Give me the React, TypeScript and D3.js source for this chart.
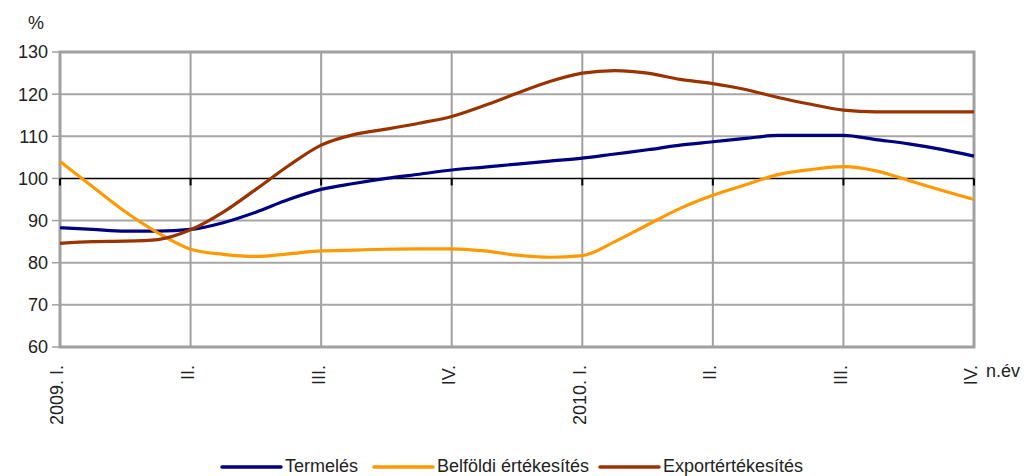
import React, { useRef, useEffect } from 'react';
import * as d3 from 'd3';

// x positions are in quarters from 2009 I. (0) to 2010 IV. (7), sampled every quarter of a quarter
const quarterLabels = ['2009. I.', 'II.', 'III.', 'IV.', '2010. I.', 'II.', 'III.', 'IV.'];
const yTicks = [60, 70, 80, 90, 100, 110, 120, 130];

const termeles = [
  88.3, 87.9, 87.5, 87.5, 87.9, 89.5, 92.0, 95.0, 97.4, 98.8, 100.0, 101.0, 102.0, 102.7, 103.4,
  104.1, 104.8, 105.8, 106.8, 107.9, 108.7, 109.5, 110.2, 110.2, 110.2, 109.2, 108.2, 106.9, 105.3,
];
const belfoldi = [
  104.0, 98.0, 92.1, 87.1, 83.2, 82.0, 81.5, 82.1, 82.8, 83.0, 83.2, 83.3, 83.3, 82.8, 81.8,
  81.3, 81.7, 85.0, 89.0, 92.9, 96.0, 98.5, 100.9, 102.1, 102.8, 101.8, 99.5, 97.2, 95.0,
];
const export_ = [
  84.6, 85.0, 85.1, 85.5, 87.8, 92.0, 97.4, 103.0, 107.9, 110.4, 111.7, 113.1, 114.7, 117.3, 120.2,
  123.0, 125.0, 125.6, 125.0, 123.5, 122.5, 121.1, 119.2, 117.6, 116.2, 115.8, 115.8, 115.8, 115.8,
];

const series = [
  { name: 'Termelés', values: termeles, color: '#000080' },
  { name: 'Belföldi értékesítés', values: belfoldi, color: '#FF9900' },
  { name: 'Exportértékesítés', values: export_, color: '#993300' },
];

const FONT = '"Liberation Sans", Arial, sans-serif';

export default function App() {
  const svgRef = useRef<SVGSVGElement | null>(null);
  const width = 1032;
  const height = 476;

  useEffect(() => {
    if (!svgRef.current) return;
    const svg = d3.select(svgRef.current);
    svg.selectAll('*').remove();

    const margin = { top: 52, right: 58, bottom: 129, left: 60 };
    const x = d3.scaleLinear().domain([0, 7]).range([margin.left, width - margin.right]);
    const y = d3.scaleLinear().domain([60, 130]).range([height - margin.bottom, margin.top]);

    // horizontal gridlines
    svg
      .append('g')
      .selectAll('line')
      .data(yTicks.filter(t => t !== 100 && t !== 60 && t !== 130))
      .join('line')
      .attr('x1', x(0))
      .attr('x2', x(7))
      .attr('y1', d => y(d))
      .attr('y2', d => y(d))
      .attr('stroke', '#a6a6a6')
      .attr('stroke-width', 2);

    // vertical gridlines
    svg
      .append('g')
      .selectAll('line')
      .data(d3.range(1, 7))
      .join('line')
      .attr('x1', d => x(d))
      .attr('x2', d => x(d))
      .attr('y1', y(130))
      .attr('y2', y(60))
      .attr('stroke', '#a0a0a0')
      .attr('stroke-width', 2);

    // plot frame
    svg
      .append('rect')
      .attr('x', x(0))
      .attr('y', y(130))
      .attr('width', x(7) - x(0))
      .attr('height', y(60) - y(130))
      .attr('fill', 'none')
      .attr('stroke', '#a0a0a0')
      .attr('stroke-width', 3);

    // y axis ticks and labels
    const yAxis = svg.append('g');
    yAxis
      .selectAll('line')
      .data(yTicks)
      .join('line')
      .attr('x1', x(0) - 8)
      .attr('x2', x(0))
      .attr('y1', d => y(d))
      .attr('y2', d => y(d))
      .attr('stroke', '#a0a0a0')
      .attr('stroke-width', 1.5);
    yAxis
      .selectAll('text')
      .data(yTicks)
      .join('text')
      .attr('x', x(0) - 12)
      .attr('y', d => y(d))
      .attr('dy', '0.36em')
      .attr('text-anchor', 'end')
      .attr('font-family', FONT)
      .attr('font-size', 18)
      .attr('fill', '#222')
      .text(d => d);

    svg
      .append('text')
      .attr('x', 28)
      .attr('y', 29)
      .attr('font-family', FONT)
      .attr('font-size', 18)
      .attr('fill', '#222')
      .text('%');

    // category axis crossing at 100
    svg
      .append('line')
      .attr('x1', x(0))
      .attr('x2', x(7))
      .attr('y1', y(100))
      .attr('y2', y(100))
      .attr('stroke', '#000')
      .attr('stroke-width', 1.5);
    svg
      .append('g')
      .selectAll('line')
      .data(d3.range(0, 8))
      .join('line')
      .attr('x1', d => x(d))
      .attr('x2', d => x(d))
      .attr('y1', y(100))
      .attr('y2', y(100) + 7)
      .attr('stroke', '#000')
      .attr('stroke-width', 2);

    // series
    const line = d3
      .line<number>()
      .x((_, i) => x(i * 0.25))
      .y(d => y(d))
      .curve(d3.curveMonotoneX);

    series.forEach(s => {
      svg
        .append('path')
        .datum(s.values)
        .attr('d', line)
        .attr('fill', 'none')
        .attr('stroke', s.color)
        .attr('stroke-width', 3.2)
        .attr('stroke-linejoin', 'round');
    });

    // x labels (rotated)
    svg
      .append('g')
      .selectAll('text')
      .data(quarterLabels)
      .join('text')
      .attr('transform', (_, i) => `translate(${x(i) - 3},365) rotate(-90)`)
      .attr('dy', '0.36em')
      .attr('text-anchor', 'end')
      .attr('font-family', FONT)
      .attr('font-size', 18)
      .attr('fill', '#222')
      .text(d => d);

    svg
      .append('text')
      .attr('x', 986)
      .attr('y', 377)
      .attr('font-family', FONT)
      .attr('font-size', 18)
      .attr('fill', '#222')
      .text('n.év');

    // legend
    const legendX = [222, 374, 600];
    const legend = svg
      .append('g')
      .selectAll('g')
      .data(series)
      .join('g')
      .attr('transform', (_, i) => `translate(${legendX[i]},467)`);
    legend
      .append('line')
      .attr('x1', 0)
      .attr('x2', 59)
      .attr('stroke', d => d.color)
      .attr('stroke-width', 3.5)
      .attr('stroke-linecap', 'round');
    legend
      .append('text')
      .attr('x', 63)
      .attr('y', 5)
      .attr('font-family', FONT)
      .attr('font-size', 18)
      .attr('fill', '#222')
      .text(d => d.name);
  }, []);

  return (
    <div style={{ position: 'absolute', left: 0, top: 0 }}>
      <svg ref={svgRef} width={width} height={height} style={{ display: 'block', background: '#fff' }}></svg>
    </div>
  );
}
